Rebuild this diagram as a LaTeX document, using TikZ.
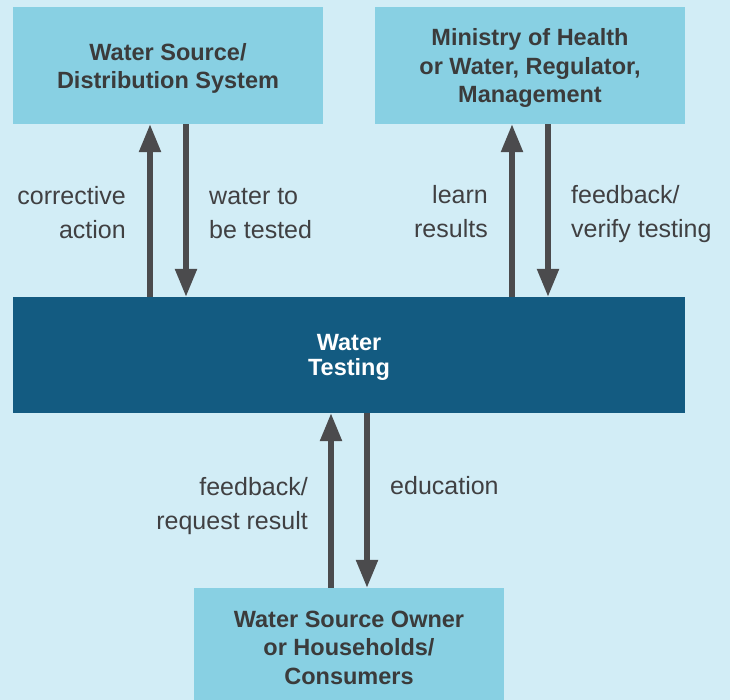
\documentclass[tikz,border=0pt]{standalone}
\usepackage{fontspec}
\setmainfont{Liberation Sans}
\usetikzlibrary{arrows.meta}
\definecolor{bgc}{HTML}{D2EDF6}
\definecolor{boxc}{HTML}{88D0E3}
\definecolor{darkc}{HTML}{135B81}
\definecolor{txtc}{HTML}{3B3B3B}
\definecolor{labc}{HTML}{404042}
\definecolor{arrc}{HTML}{4B4B4D}
\begin{document}
\begin{tikzpicture}[x=1pt,y=-1pt,
  lightbox/.style={rectangle, fill=boxc, minimum width=310pt, minimum height=117pt, inner sep=0pt},
  darkbox/.style={rectangle, fill=darkc, minimum width=672pt, minimum height=116pt, inner sep=0pt},
  title/.style={inner sep=0pt, text=txtc, align=center, font=\bfseries\fontsize{23.5}{28.5}\selectfont},
  darktitle/.style={inner sep=0pt, text=white, align=center, font=\bfseries\fontsize{23.5}{25}\selectfont},
  lab/.style={inner sep=0pt, text=labc, font=\fontsize{25}{34}\selectfont},
  arr/.style={draw=arrc, line width=5.5pt, -{Triangle[length=28pt,width=21pt]}}
]
\fill[bgc] (0,0) rectangle (730,700);
\useasboundingbox (0,0) rectangle (730,700);

\node[lightbox] (tl) at (168,65.5) {};
\node[lightbox] (tr) at (530,65.5) {};
\node[darkbox] (mid) at (349,355) {};
\node[lightbox, minimum height=112pt] (bot) at (349,644) {};

\node[title] (tlt) at ([yshift=-3pt]tl.center) {Water Source/\\Distribution System};
\node[title] (trt) at ([yshift=-2.5pt]tr.center) {Ministry of Health\\or Water, Regulator,\\Management};
\node[darktitle] (midt) at ([yshift=-2.5pt]mid.center) {Water\\Testing};
\node[title] (bott) at ([yshift=-3.5pt]bot.center) {Water Source Owner\\or Households/\\Consumers};

\draw[arr] ([xshift=-18pt]tl.south |- mid.north) -- ([xshift=-18pt]tl.south);
\draw[arr] ([xshift=18pt]tl.south) -- ([xshift=18pt]tl.south |- mid.north);
\draw[arr] ([xshift=-18pt]tr.south |- mid.north) -- ([xshift=-18pt]tr.south);
\draw[arr] ([xshift=18pt]tr.south) -- ([xshift=18pt]tr.south |- mid.north);
\draw[arr] ([xshift=-18pt]bot.north) -- ([xshift=-18pt]bot.north |- mid.south);
\draw[arr] ([xshift=18pt]bot.north |- mid.south) -- ([xshift=18pt]bot.north);

\node[lab, align=right, anchor=base east] (l1) at (126,239) {corrective\\action};
\node[lab, align=left, anchor=base west] (l2) at (209,239) {water to\\be tested};
\node[lab, align=right, anchor=base east] (l3) at (488,238) {learn\\results};
\node[lab, align=left, anchor=base west] (l4) at (571,238) {feedback/\\verify testing};
\node[lab, align=right, anchor=base east] (l5) at (308,529) {feedback/\\request result};
\node[lab, align=left, anchor=base west] (l6) at (390,494) {education};
\end{tikzpicture}
\end{document}
